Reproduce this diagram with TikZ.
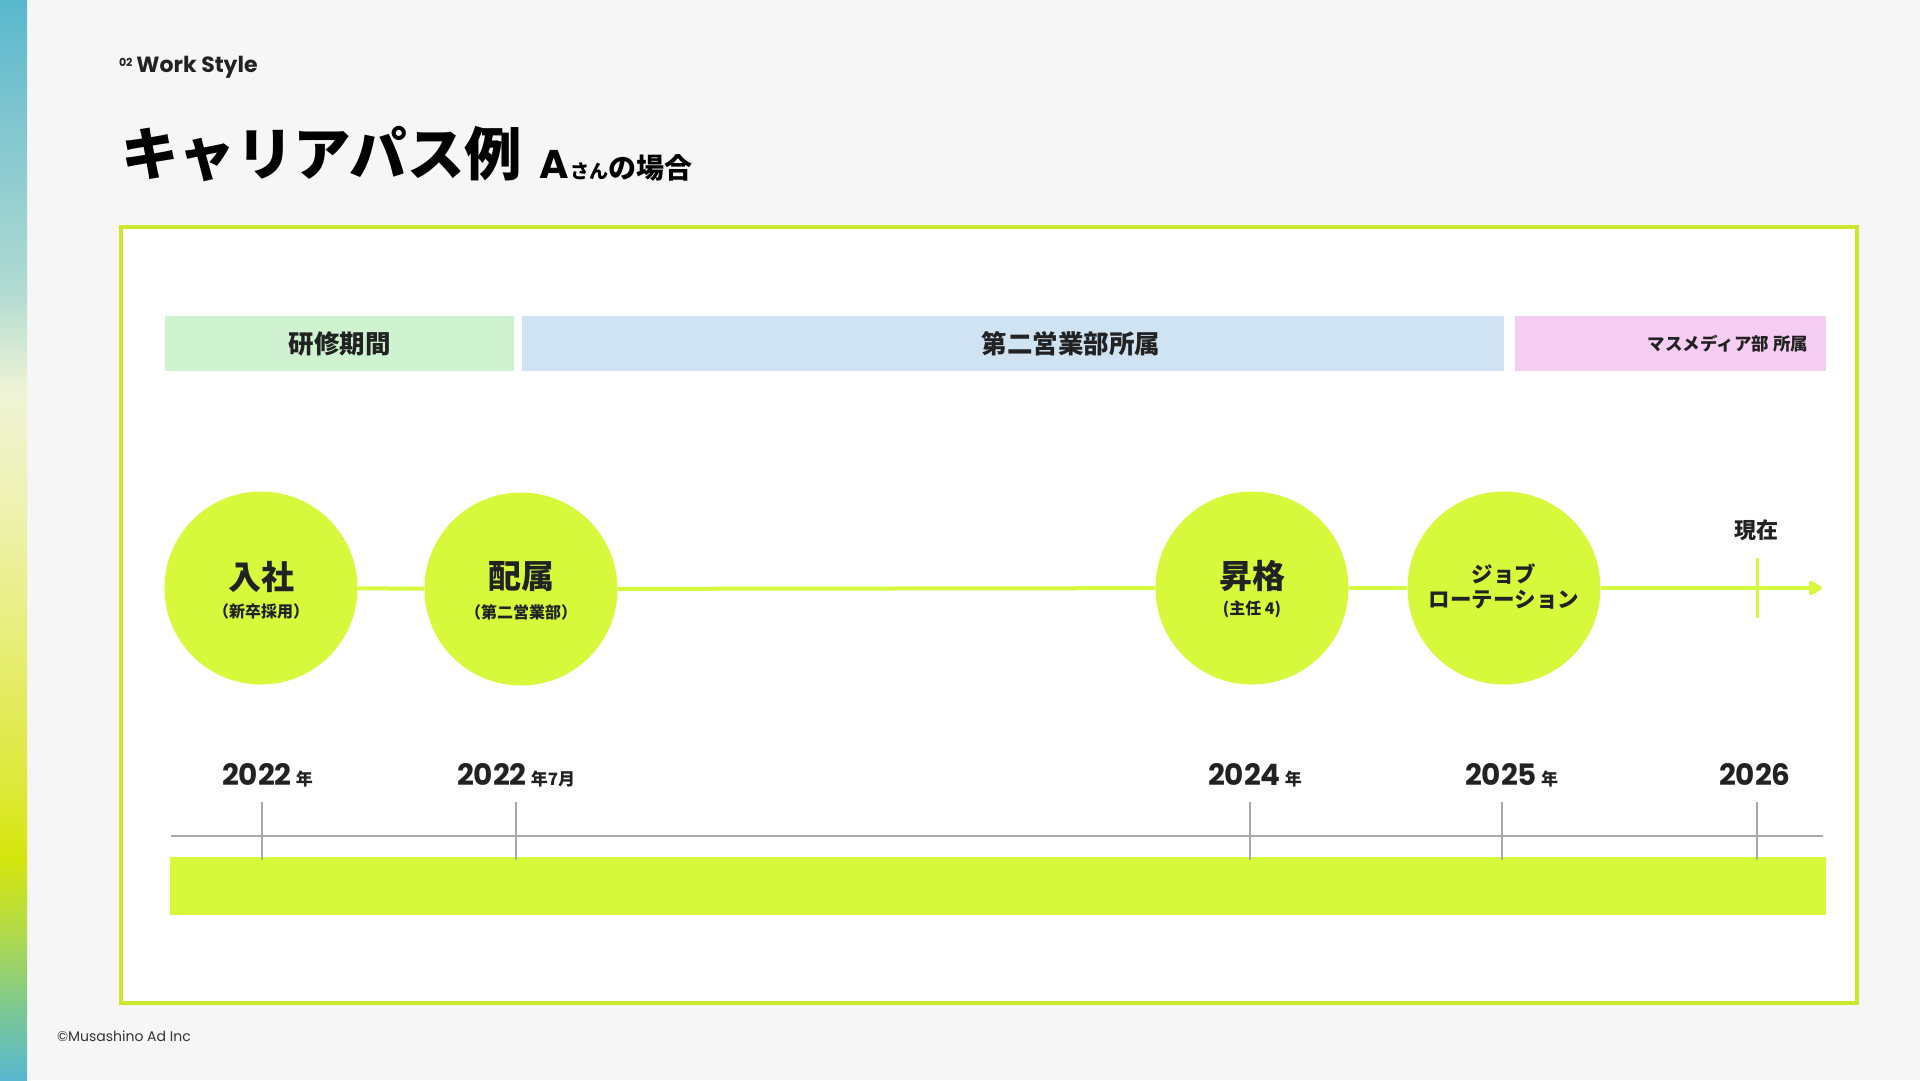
\documentclass[tikz,border=0pt]{standalone}
\usepackage{fontspec}
\setmainfont{Poppins}
\newfontfamily\jp{Noto Sans CJK JP}
\usetikzlibrary{arrows.meta}
\newcommand\fsz[1]{\fontsize{#1}{#1}\selectfont}
\definecolor{bgc}{HTML}{F6F6F6}
\definecolor{limec}{HTML}{D7F93C}
\definecolor{framec}{HTML}{CBE82C}
\definecolor{txt}{HTML}{222222}
\definecolor{phgreen}{HTML}{CFF2D0}
\definecolor{phblue}{HTML}{CFE3F3}
\definecolor{phpink}{HTML}{F5CDF3}
\definecolor{axisc}{HTML}{A8A8A8}
\definecolor{g0}{HTML}{59B8CD}
\definecolor{g1}{HTML}{7CC4CF}
\definecolor{g2}{HTML}{B0DBD1}
\definecolor{g3}{HTML}{EEF3D6}
\definecolor{g4}{HTML}{EEF2B0}
\definecolor{g5}{HTML}{E6ED70}
\definecolor{g6}{HTML}{DDE93A}
\definecolor{g7}{HTML}{D5E60C}
\definecolor{g8}{HTML}{B2DA48}
\definecolor{g9}{HTML}{7FC98F}
\definecolor{g10}{HTML}{58B8CF}
\newcommand\yr[2]{{\bfseries\fsz{29.5}#1}\hspace{4pt}{\jp\bfseries\fsz{17}#2}}
\begin{document}
\begin{tikzpicture}[x=1pt,y=-1pt,
  txtnode/.style={inner sep=0pt, outer sep=0pt, text=txt},
  phase/.style={rectangle, inner sep=0pt, minimum height=55pt},
  milestone/.style={circle, fill=limec, minimum size=193pt, inner sep=0pt},
  timeline/.style={draw=limec, line width=4pt},
  axisline/.style={draw=axisc, line width=1.2pt},
  yearlbl/.style={txtnode, anchor=base west},
]
\useasboundingbox (0,0) rectangle (1920,1080);
\fill[bgc] (0,0) rectangle (1920,1080);
% left gradient bar
\shade[top color=g0, bottom color=g1] (0,0) rectangle (27,109);
\shade[top color=g1, bottom color=g2] (0,108) rectangle (27,291);
\shade[top color=g2, bottom color=g3] (0,290) rectangle (27,390);
\shade[top color=g3, bottom color=g4] (0,389) rectangle (27,507);
\shade[top color=g4, bottom color=g5] (0,506) rectangle (27,659);
\shade[top color=g5, bottom color=g6] (0,658) rectangle (27,784);
\shade[top color=g6, bottom color=g7] (0,783) rectangle (27,858);
\shade[top color=g7, bottom color=g8] (0,857) rectangle (27,932);
\shade[top color=g8, bottom color=g9] (0,931) rectangle (27,1005);
\shade[top color=g9, bottom color=g10] (0,1004) rectangle (27,1080);
% header
\node[txtnode, anchor=base west] (kicker) at (119,72) {\raisebox{6pt}{\bfseries\fsz{11}02}\hspace{4pt}{\bfseries\fsz{22}Work Style}};
\node[txtnode, anchor=base west, text=black] (title) at (121,175) {\jp\bfseries\fsz{57.5}キャリアパス例};
\node[txtnode, anchor=base west, text=black] (subtitle) at (539,178) {{\bfseries\fsz{40}A}\hspace{2pt}{\jp\bfseries\fsz{19}さん}{\jp\bfseries\fsz{28}の場合}};
% frame
\draw[framec, line width=3.5pt, fill=white] (121,227) rectangle (1857,1003);
% phases
\node[phase, fill=phgreen, minimum width=349pt] (ph1) at (339.5,343.5) {\jp\bfseries\fsz{25.5}\color{txt}研修期間};
\node[phase, fill=phblue, minimum width=982pt] (ph2) at (1013,343.5) {};
\node[txtnode] (ph2t) at (1071,343.5) {\jp\bfseries\fsz{25.5}第二営業部所属};
\node[phase, fill=phpink, minimum width=311pt] (ph3) at (1670.5,343.5) {};
\node[txtnode, anchor=east] (ph3t) at (1808,344) {\jp\bfseries\fsz{17.5}マスメディア部 所属};
% milestones
\node[milestone] (c1) at (261,588) {};
\node[milestone] (c2) at (521,589) {};
\node[milestone] (c3) at (1252,588) {};
\node[milestone] (c4) at (1504,588) {};
\coordinate (arrowend) at (1822,588);
\draw[timeline] (c1) -- (c2);
\draw[timeline] (c2) -- (c3);
\draw[timeline] (c3) -- (c4);
\draw[timeline, -{Triangle[length=15pt,width=16pt,round]}] (c4) -- (arrowend);
\coordinate (nt1) at (1757,558);
\coordinate (nt2) at (1757,618);
\draw[draw=limec, line width=3pt] (nt1) -- (nt2);
\node[txtnode] (now) at (1756,530) {\jp\bfseries\fsz{22}現在};
\node[txtnode] (c1a) at (261,577) {\jp\bfseries\fsz{33}入社};
\node[txtnode] (c1b) at (261,611) {\jp\bfseries\fsz{16}（新卒採用）};
\node[txtnode] (c2a) at (521,577) {\jp\bfseries\fsz{33}配属};
\node[txtnode] (c2b) at (521,612) {\jp\bfseries\fsz{16}（第二営業部）};
\node[txtnode] (c3a) at (1252,576) {\jp\bfseries\fsz{33}昇格};
\node[txtnode] (c3b) at (1252,609) {\jp\bfseries\fsz{16}(主任 4)};
\node[txtnode] (c4a) at (1504,574) {\jp\bfseries\fsz{21.5}ジョブ};
\node[txtnode] (c4b) at (1504,600) {\jp\bfseries\fsz{21.5}ローテーション};
% axis
\coordinate (ax1) at (171,836);
\coordinate (ax2) at (1823,836);
\draw[axisline] (ax1) -- (ax2);
\fill[limec] (170,857) rectangle (1826,915);
\foreach \x/\n in {262/a,516/b,1250/c,1502/d,1757/e}{
  \coordinate (t\n1) at (\x,802);
  \coordinate (t\n2) at (\x,860);
  \draw[axisline] (t\n1) -- (t\n2);
}
\node[yearlbl] (y1) at (222,785) {\yr{2022}{年}};
\node[yearlbl] (y2) at (457,785) {\yr{2022}{年7月}};
\node[yearlbl] (y3) at (1208,785) {\yr{2024}{年}};
\node[yearlbl] (y4) at (1465,785) {\yr{2025}{年}};
\node[yearlbl] (y5) at (1719,785) {{\bfseries\fsz{29.5}2026}};
% footer
\node[txtnode, anchor=base west, text=black!80] (footer) at (57,1041) {\fsz{14}©Musashino Ad Inc};
\end{tikzpicture}
\end{document}
